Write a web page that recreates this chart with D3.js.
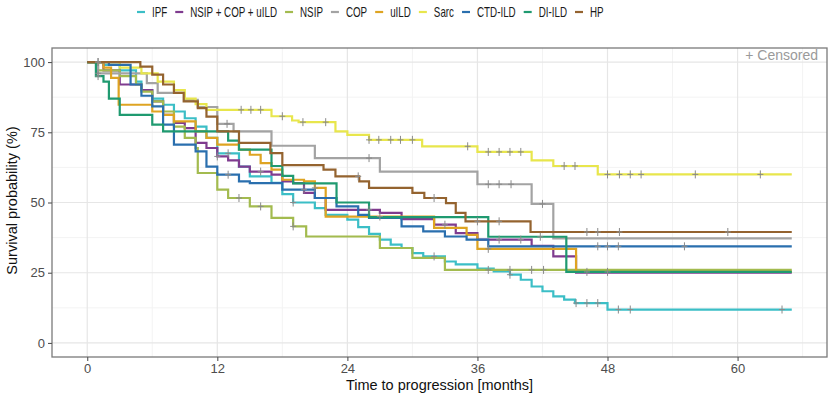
<!DOCTYPE html>
<html>
<head>
<meta charset="utf-8">
<script src="https://cdn.jsdelivr.net/npm/d3@7"></script>
<style>
  body { margin: 0; background: #fff; }
  text { font-family: Arial, "Liberation Sans", sans-serif; }
</style>
</head>
<body>
<div id="chart"></div>
<script>
// groups in legend / drawing order
const groups = ['IPF', 'NSIP + COP + uILD', 'NSIP', 'COP', 'uILD', 'Sarc', 'CTD-ILD', 'DI-ILD', 'HP']
const colors = ['#3bbec6', '#7f3b8f', '#a3bb4f', '#a3a3a3', '#dea422', '#e8e64c', '#2a6fae', '#1f9a70', '#94632f']

// [month, survival %] at each drop
const ipf = [[0, 100], [1.5, 99], [3, 97], [4.5, 93], [5, 90], [6, 87], [7, 84.8], [8, 82.4], [9, 80], [10, 77], [11, 73], [12, 67.5],
  [14, 62.8], [15, 59.3], [17, 57], [18, 53], [19, 50], [21, 48], [22, 45.6], [24, 43.9], [25, 41.2], [26, 38.8], [27, 36.8],
  [28, 35], [29, 33.8], [30, 32], [31, 30.8], [33, 29], [34, 28], [36, 26.5], [37.5, 25.5], [39, 24.3], [40, 22.5], [41, 20.1],
  [42, 18.4], [43, 16.6], [44, 15.4], [45, 14.2], [48, 11.9]]
const mixed = [[0, 100], [1.5, 97], [3, 92], [5, 90], [6, 86], [7, 81.2], [8, 78.3], [9, 76.5], [10, 71.2], [11, 69.4], [12, 66.4],
  [13, 65], [14, 62.8], [15, 61], [17, 59.9], [18, 57.5], [19, 56.9], [20, 53.4], [21, 51.6], [22, 47.4], [27, 46.3], [29, 44.1],
  [32, 42.1], [34, 39.1], [36, 36.8], [41, 34.6], [43, 30.8], [45.1, 25]]
const nsip = [[0, 100], [1, 97], [3, 95], [4.5, 92], [5, 89.5], [6, 86], [7, 82.4], [8, 77], [9, 73], [10, 69.4], [10.2, 60.5],
  [12, 54.6], [13, 51.6], [15, 48.6], [17, 44.5], [19, 41.5], [20.2, 37.9], [27, 33.8], [30, 30.3], [33, 26]]
const cop = [[0, 100], [1, 96], [5.5, 92.5], [6.5, 89], [9, 86.5], [10.2, 84], [12, 78], [13.5, 75.3], [17, 70.2], [21, 65.8],
  [27, 61], [36, 56.5], [41, 49.5], [43, 37.2]]
const uild = [[0, 100], [1.5, 98], [2.2, 94.4], [2.9, 84.8], [6, 82.4], [7, 81.2], [8, 78.9], [10, 75.3], [11, 73], [12, 70.6],
  [14, 68.8], [15, 67], [16, 64], [17, 61.7], [18, 58.1], [20, 57.5], [21, 55.2], [22, 45], [32, 41], [35, 38.5], [36, 33.5], [45.1, 25.3]]
const sarc = [[0, 100], [3, 98], [5, 96], [6.5, 93], [8, 90], [9, 87], [10, 85], [11, 83], [17, 80.7], [18.9, 79.2], [19.5, 78.6],
  [22.9, 75.3], [24, 74.1], [26, 72.3], [30.9, 70], [36, 68], [41, 65], [43, 63], [47.1, 60]]
const ctd = [[0, 100], [2, 99], [4, 92], [5, 88], [6, 84.2], [7, 77.7], [8, 70.6], [10, 68.2], [11, 62.8], [12, 59.9], [14, 57.5],
  [15, 56.9], [18, 54.6], [21, 51.6], [23, 48.6], [25, 45.6], [26, 44.5], [29, 41.5], [31, 39.7], [33, 37.9], [35, 36.8], [37, 34.4]]
const diild = [[0, 100], [0.8, 95], [1.5, 93], [2, 87], [3, 81.2], [6, 77.7], [7, 75.3], [13, 72], [14, 68.8], [17, 63], [18, 59.5],
  [19, 56.8], [23, 50], [26, 44.8], [37, 37.8], [44.2, 25.3]]
const hp = [[0, 100], [4.9, 98.4], [6, 95.5], [7, 92], [8, 89], [8.9, 86], [10.2, 83.6], [11, 80.6], [12, 75.3], [14, 71.2],
  [16.9, 67.6], [18, 63.3], [21.8, 61.7], [22.9, 59.3], [25.1, 57.5], [26, 55.2], [30, 53.4], [31.1, 51.6], [33.1, 49.8],
  [34, 46.3], [34.9, 43.3], [40.9, 39.5]]

// censoring times (months)
const ipfCens = [1, 13, 19, 32, 39, 45.1, 46.1, 47.1, 49, 50.1, 64.1]
const mixedCens = [12, 16, 26, 33, 38, 40]
const nsipCens = [14, 16, 19, 37, 39, 41, 42.1]
const copCens = [1, 12.9, 26, 37, 38, 39.1, 42]
const uildCens = [21, 27, 37]
const sarcCens = [14.2, 15.1, 16, 18, 19.9, 22, 26, 26.9, 28, 28.9, 30, 35.1, 37, 38, 39, 40, 44, 45, 48, 49.1, 50.1, 51.1, 56.1, 62.1]
const ctdCens = [1, 13, 20, 47.1, 48, 49, 55.1]
const diildCens = [1, 41.8, 46.1, 48]
const hpCens = [25, 32, 36, 38, 46.1, 47.1, 49.1, 59.1]

const steps = [ipf, mixed, nsip, cop, uild, sarc, ctd, diild, hp]
const censors = [ipfCens, mixedCens, nsipCens, copCens, uildCens, sarcCens, ctdCens, diildCens, hpCens]
const tEnd = 65
const xTicks = [0, 12, 24, 36, 48, 60]
const xMinor = [6, 18, 30, 42, 54, 66]
const yTicks = [0, 25, 50, 75, 100]
const yMinor = [12.5, 37.5, 62.5, 87.5]

let dms = { width: 830, height: 395, margin: { top: 48, right: 3, bottom: 38, left: 52 } }
dms.chartWidth = dms.width - dms.margin.left - dms.margin.right
dms.chartHeight = dms.height - dms.margin.top - dms.margin.bottom

const svg = d3.select('#chart').append('svg')
  .attr('width', dms.width)
  .attr('height', dms.height)

const content = svg.append('g')
  .attr('transform', `translate(${dms.margin.left},${dms.margin.top})`)

// ggplot-like 5% expansion
const xScale = d3.scaleLinear().domain([-3.25, 68.25]).range([0, dms.chartWidth])
const yScale = d3.scaleLinear().domain([-5, 105]).range([dms.chartHeight, 0])

// grid
content.selectAll('.gx-minor').data(xMinor.filter(d => d < 68.25)).enter().append('line')
  .attr('x1', d => xScale(d)).attr('x2', d => xScale(d))
  .attr('y1', 0).attr('y2', dms.chartHeight)
  .attr('stroke', '#f3f3f3').attr('stroke-width', 1)
content.selectAll('.gy-minor').data(yMinor).enter().append('line')
  .attr('y1', d => yScale(d)).attr('y2', d => yScale(d))
  .attr('x1', 0).attr('x2', dms.chartWidth)
  .attr('stroke', '#f3f3f3').attr('stroke-width', 1)
content.selectAll('.gx').data(xTicks).enter().append('line')
  .attr('x1', d => xScale(d)).attr('x2', d => xScale(d))
  .attr('y1', 0).attr('y2', dms.chartHeight)
  .attr('stroke', '#e6e6e6').attr('stroke-width', 1.2)
content.selectAll('.gy').data(yTicks).enter().append('line')
  .attr('y1', d => yScale(d)).attr('y2', d => yScale(d))
  .attr('x1', 0).attr('x2', dms.chartWidth)
  .attr('stroke', '#e6e6e6').attr('stroke-width', 1.2)

// survival value at time t
const survAt = (st, t) => {
  let s = st[0][1]
  st.forEach(p => { if (p[0] <= t) s = p[1] })
  return s
}

const line = d3.line()
  .x(d => xScale(d[0]))
  .y(d => yScale(d[1]))
  .curve(d3.curveStepAfter)

steps.forEach((st, i) => {
  const pts = st.concat([[tEnd, st[st.length - 1][1]]])
  content.append('path')
    .datum(pts)
    .attr('fill', 'none')
    .attr('stroke', colors[i])
    .attr('stroke-width', 2.2)
    .attr('d', line)
})

// censor marks
steps.forEach((st, i) => {
  content.selectAll(`.cens-${i}`)
    .data(censors[i])
    .enter()
    .append('path')
    .attr('transform', d => `translate(${xScale(d)},${yScale(survAt(st, d))})`)
    .attr('d', 'M0,-4V4M-3,0H3')
    .attr('stroke', '#8a8a8a')
    .attr('stroke-width', 1)
    .attr('fill', 'none')
})

// panel border
content.append('rect')
  .attr('x', 0).attr('y', 0)
  .attr('width', dms.chartWidth).attr('height', dms.chartHeight)
  .attr('fill', 'none').attr('stroke', '#7a7a7a').attr('stroke-width', 1.3)

// axes
const xAxis = d3.axisBottom(xScale).tickValues(xTicks).tickSize(4).tickPadding(3)
const yAxis = d3.axisLeft(yScale).tickValues(yTicks).tickSize(4).tickPadding(3)
const gx = content.append('g').attr('transform', `translate(0,${dms.chartHeight})`).call(xAxis)
const gy = content.append('g').call(yAxis)
;[gx, gy].forEach(g => {
  g.select('.domain').remove()
  g.selectAll('.tick line').attr('stroke', '#555').attr('stroke-width', 1.1)
  g.selectAll('.tick text').attr('fill', '#4d4d4d').style('font-size', '13px')
    .style('font-family', 'Arial, "Liberation Sans", sans-serif')
})

// axis titles
content.append('text')
  .attr('x', dms.chartWidth / 2)
  .attr('y', dms.chartHeight + 33)
  .attr('text-anchor', 'middle')
  .style('font-size', '14.5px')
  .attr('fill', '#111')
  .text('Time to progression [months]')
content.append('text')
  .attr('transform', `translate(${-35},${yScale(50) - 2}) rotate(-90)`)
  .attr('text-anchor', 'middle')
  .style('font-size', '14.5px')
  .attr('fill', '#111')
  .text('Survival probability (%)')

// censored note
content.append('text')
  .attr('x', dms.chartWidth - 9)
  .attr('y', 12)
  .attr('text-anchor', 'end')
  .style('font-size', '14px')
  .attr('fill', '#9a9a9a')
  .text('+ Censored')

// legend (narrow text, squeezed horizontally)
const legend = svg.append('g').attr('transform', 'translate(137,12)')
let lx = 0
groups.forEach((g, i) => {
  legend.append('line')
    .attr('x1', lx).attr('x2', lx + 8)
    .attr('y1', 0).attr('y2', 0)
    .attr('stroke', colors[i]).attr('stroke-width', 2.2)
  const t = legend.append('text')
    .attr('y', 5)
    .style('font-size', '14px')
    .attr('fill', '#1a1a1a')
    .text(g)
  const w = t.node().getComputedTextLength() * 0.7
  t.attr('transform', `translate(${lx + 15},0) scale(0.7,1)`)
  lx += 15 + w + 8
})
</script>
</body>
</html>
